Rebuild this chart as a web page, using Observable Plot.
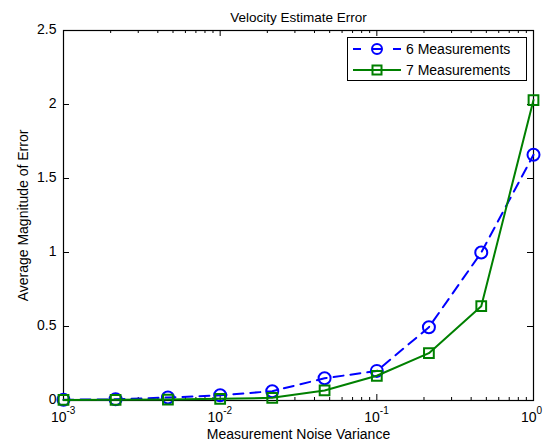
<!DOCTYPE html>
<html><head><meta charset="utf-8">
<script src="https://cdn.jsdelivr.net/npm/d3@7"></script>
<script src="https://cdn.jsdelivr.net/npm/@observablehq/plot@0.6"></script>
<style>
body{margin:0;background:#fff;font-family:"Liberation Sans",Arial,sans-serif;}
#wrap{position:relative;width:555px;height:448px;}
#legend{position:absolute;left:347px;top:37px;width:178px;height:42px;border:1px solid #000;background:#fff;}
#legend svg{display:block;}
</style></head><body><div id="wrap"></div>
<script>
const noiseVariance = [0.001, 0.00215, 0.00464, 0.01, 0.0215, 0.0464, 0.1, 0.215, 0.464, 1];
const err6 = [0.005, 0.008, 0.02, 0.035, 0.063, 0.15, 0.20, 0.495, 1.0, 1.66];
const err7 = [0.004, 0.005, 0.006, 0.011, 0.018, 0.068, 0.167, 0.32, 0.637, 2.03];
const seriesNames = ["6 Measurements", "7 Measurements"];
const seriesColors = ["#0000ff", "#008000"];
const yTicks = [0, 0.5, 1, 1.5, 2, 2.5];
const xMajor = [0.001, 0.01, 0.1, 1];
const xExponents = ["-3", "-2", "-1", "0"];
const titleText = "Velocity Estimate Error";
const xLabel = "Measurement Noise Variance";
const yLabel = "Average Magnitude of Error";

const xMinor = [];
for (const d of [0.001, 0.01, 0.1]) for (let k = 2; k <= 9; k++) xMinor.push(d * k);

const d6 = noiseVariance.map((x, i) => ({x, y: err6[i]}));
const d7 = noiseVariance.map((x, i) => ({x, y: err7[i]}));

const W = 555, H = 448, mL = 63, mR = 22, mT = 30, mB = 48;
const fw = W - mL - mR, fh = H - mT - mB;
const font = "Liberation Sans, Arial, sans-serif";

const chart = Plot.plot({
  width: W, height: H,
  marginLeft: mL, marginRight: mR, marginTop: mT, marginBottom: mB,
  style: {fontFamily: font, background: "white"},
  x: {type: "log", domain: [0.001, 1], axis: null},
  y: {domain: [0, 2.5], axis: null},
  marks: [
    // ticks inward on all four sides
    Plot.tickX(xMajor, {x: d => d, insetTop: fh - 6, stroke: "black", strokeWidth: 1}),
    Plot.tickX(xMajor, {x: d => d, insetBottom: fh - 6, stroke: "black", strokeWidth: 1}),
    Plot.tickX(xMinor, {x: d => d, insetTop: fh - 3, stroke: "black", strokeWidth: 1}),
    Plot.tickX(xMinor, {x: d => d, insetBottom: fh - 3, stroke: "black", strokeWidth: 1}),
    Plot.tickY(yTicks, {y: d => d, insetRight: fw - 6, stroke: "black", strokeWidth: 1}),
    Plot.tickY(yTicks, {y: d => d, insetLeft: fw - 6, stroke: "black", strokeWidth: 1}),
    Plot.frame({stroke: "black", strokeWidth: 1.2}),
    // y tick labels
    Plot.text(yTicks, {y: d => d, frameAnchor: "left", dx: -7, dy: -1, textAnchor: "end", text: d => String(d), fontSize: 14, fill: "black"}),
    // x tick labels 10^n
    Plot.text(xMajor, {x: d => d, frameAnchor: "bottom", dy: 21, dx: 3, textAnchor: "end", text: () => "10", fontSize: 14, fill: "black"}),
    Plot.text(xMajor, {x: d => d, frameAnchor: "bottom", dy: 13, dx: 3, textAnchor: "start", text: (d, i) => xExponents[i], fontSize: 10, fill: "black"}),
    // data
    Plot.line(d6, {x: "x", y: "y", stroke: seriesColors[0], strokeWidth: 2, strokeDasharray: "10,7"}),
    Plot.dot(d6, {x: "x", y: "y", r: 6, stroke: seriesColors[0], strokeWidth: 2, fill: "none"}),
    Plot.line(d7, {x: "x", y: "y", stroke: seriesColors[1], strokeWidth: 2}),
    Plot.dot(d7, {x: "x", y: "y", r: 5.5, symbol: "square", stroke: seriesColors[1], strokeWidth: 2, fill: "none"}),
    // title and axis labels
    Plot.text([titleText], {frameAnchor: "top", dy: -18, text: d => d, fontSize: 13.5, fill: "black"}),
    Plot.text([xLabel], {frameAnchor: "bottom", dy: 38, text: d => d, fontSize: 14, fill: "black"}),
    Plot.text([yLabel], {frameAnchor: "left", dx: -40, rotate: -90, textAnchor: "middle", text: d => d, fontSize: 14, fill: "black"})
  ]
});

const wrap = document.getElementById("wrap");
wrap.appendChild(chart);

const legend = document.createElement("div");
legend.id = "legend";
const lsvg = d3.create("svg").attr("width", 178).attr("height", 42).style("font-family", font);
seriesNames.forEach((name, i) => {
  const cy = 11 + i * 21;
  const g = lsvg.append("g").attr("transform", `translate(0,${cy})`);
  if (i === 0) {
    g.append("line").attr("x1", 5).attr("x2", 13).attr("stroke", seriesColors[0]).attr("stroke-width", 2);
    g.append("line").attr("x1", 45).attr("x2", 53).attr("stroke", seriesColors[0]).attr("stroke-width", 2);
    g.append("circle").attr("cx", 29).attr("r", 5).attr("fill", "none").attr("stroke", seriesColors[0]).attr("stroke-width", 2);
    g.append("line").attr("x1", 25).attr("x2", 33).attr("stroke", seriesColors[0]).attr("stroke-width", 2);
  } else {
    g.append("line").attr("x1", 5).attr("x2", 53).attr("stroke", seriesColors[1]).attr("stroke-width", 2);
    g.append("rect").attr("x", 24.5).attr("y", -4.5).attr("width", 9).attr("height", 9).attr("fill", "none").attr("stroke", seriesColors[1]).attr("stroke-width", 2);
  }
  g.append("text").attr("x", 58).attr("y", 5).attr("font-size", 14).text(name);
});
legend.appendChild(lsvg.node());
wrap.appendChild(legend);
</script>
</body></html>
